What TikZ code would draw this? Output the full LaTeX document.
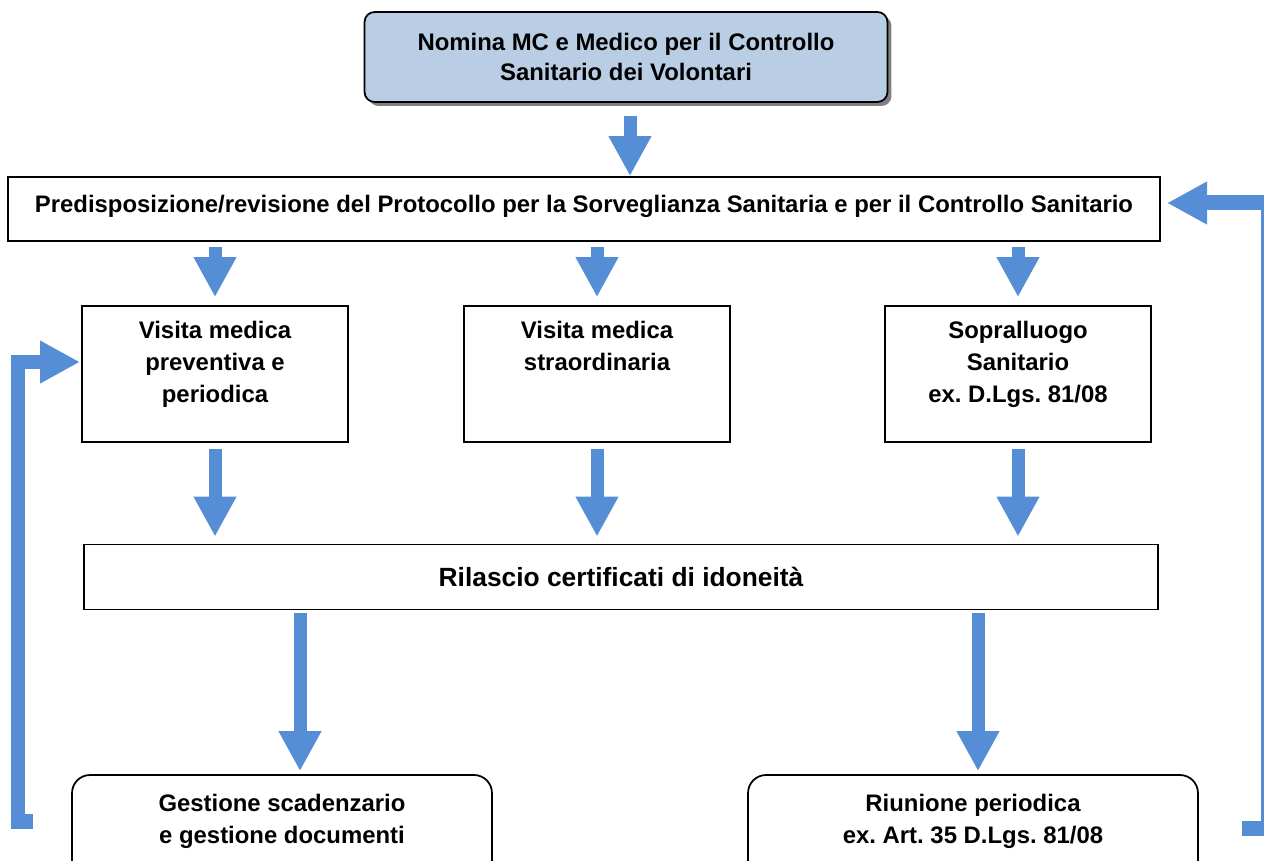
\documentclass[tikz,border=0pt]{standalone}
\usepackage{fontspec}
\setmainfont{Liberation Sans}
\frenchspacing
\usetikzlibrary{arrows.meta,shadows}
\definecolor{ArrowBlue}{RGB}{85,142,213}
\definecolor{HeadBlue}{RGB}{185,205,229}

\tikzset{
  flowbox/.style={draw, line width=1pt, inner sep=0pt, align=center,
    font=\fontsize{13.6}{17}\selectfont\bfseries},
  visitbox/.style={flowbox, minimum width=5.32cm, minimum height=2.72cm},
  endbox/.style={flowbox, rounded corners=0.36cm, minimum height=2.4cm},
  bigarrow/.style={ArrowBlue, line width=0.26cm, -{Triangle[width=0.8cm,length=0.8cm]}},
  loopline/.style={ArrowBlue, line width=0.3cm, -{Triangle[width=0.8cm,length=0.8cm]}}
}
% text set at the top of a fixed box
\newcommand{\toptext}[4]{\parbox[c][#2][t]{#3}{\vspace*{#1}\centering\fontsize{13.6}{18.2}\selectfont #4}}

\begin{document}
\begin{tikzpicture}[x=0.02cm, y=-0.02cm]
	\clip (0,0) rectangle (1264,861);
	% boxes
	\node[flowbox, fill=HeadBlue, rounded corners=0.2cm, minimum width=10.46cm, minimum height=1.8cm,
		drop shadow={shadow xshift=0.08cm, shadow yshift=-0.08cm, fill=gray, opacity=1}]
		(nomina) at (626,57) {Nomina MC e Medico per il Controllo\\Sanitario dei Volontari};
	\node[flowbox, minimum width=23.04cm, minimum height=1.28cm] (protocollo) at (584,209)
		{Predisposizione/revisione del Protocollo per la Sorveglianza Sanitaria e per il Controllo Sanitario\rule[-6pt]{0pt}{0pt}};
	\node[visitbox] (preventiva) at (215,374) {\toptext{8.8pt}{2.72cm}{5cm}{Visita medica\\preventiva e\\periodica}};
	\node[visitbox] (straord) at (597,374) {\toptext{8.8pt}{2.72cm}{5cm}{Visita medica\\straordinaria}};
	\node[visitbox] (sopralluogo) at (1018,374) {\toptext{8.8pt}{2.72cm}{5cm}{Sopralluogo\\Sanitario\\ex. D.Lgs. 81/08}};
	\node[flowbox, font=\fontsize{15}{18}\selectfont\bfseries, minimum width=21.48cm, minimum height=1.3cm]
		(rilascio) at (621,577) {Rilascio certificati di idoneità};
	\node[endbox, minimum width=8.4cm] (gestione) at (282,835) {\toptext{10.8pt}{2.4cm}{8cm}{Gestione scadenzario\\e gestione documenti}};
	\node[endbox, minimum width=9cm] (riunione) at (973,835) {\toptext{10.8pt}{2.4cm}{8.6cm}{Riunione periodica\\ex. Art. 35 D.Lgs. 81/08}};

	% arrows
	\coordinate (gx) at (300,0);
	\coordinate (rx) at (978,0);
	\draw[bigarrow, shorten <=0.26cm] (nomina.south -| 630,0) -- (protocollo.north -| 630,0);
	\foreach \b in {preventiva, straord, sopralluogo}{
		\draw[bigarrow, shorten <=0.1cm, shorten >=0.16cm] (\b.north |- protocollo.south) -- (\b.north);
		\draw[bigarrow, shorten <=0.12cm, shorten >=0.14cm] (\b.south) -- (\b.south |- rilascio.north);
	}
	\draw[bigarrow, shorten <=0.06cm, shorten >=0.06cm] (rilascio.south -| gx) -- (gestione.north -| gx);
	\draw[bigarrow, shorten <=0.06cm, shorten >=0.06cm] (rilascio.south -| rx) -- (riunione.north -| rx);

	% feedback loops
	\coordinate (lstart) at (33,821);
	\coordinate (lend) at (80,362);
	\coordinate (rstart) at (1242,828);
	\coordinate (rend) at (1167,203);
	\draw[loopline] (lstart) -| (18,362) -- (lend);
	\draw[loopline] (rstart) -| (1268,203) -- (rend);
\end{tikzpicture}
\end{document}
